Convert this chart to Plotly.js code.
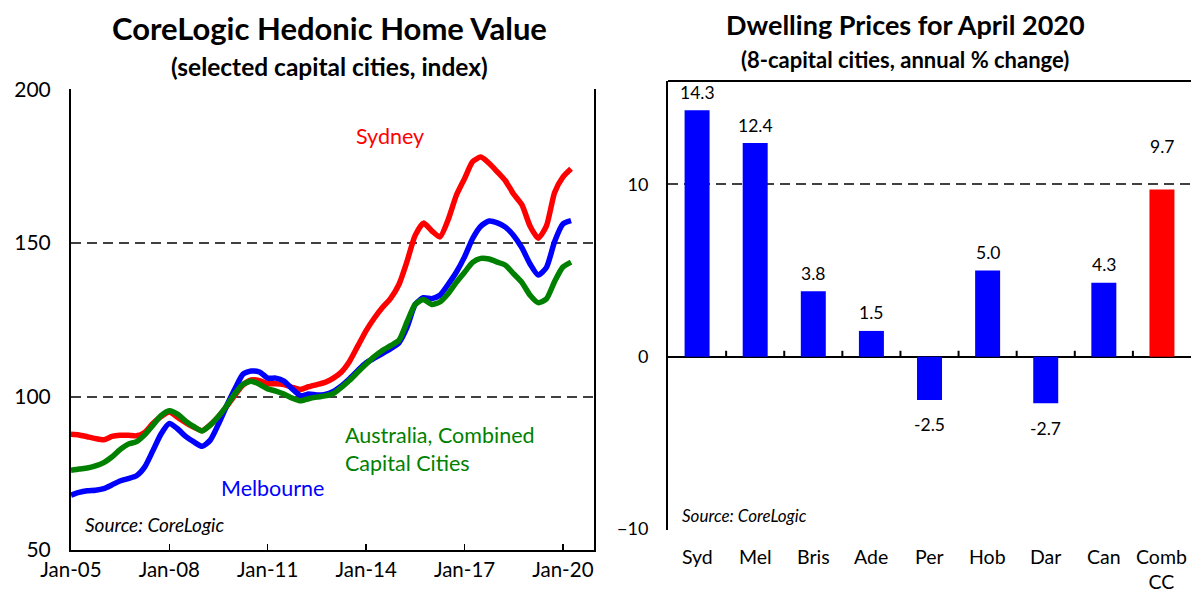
<!DOCTYPE html>
<html>
<head>
<meta charset="utf-8">
<script src="https://cdn.plot.ly/plotly-3.0.1.min.js"></script>
<style>
  html, body { margin: 0; padding: 0; background: #fff; }
  #chart { width: 1191px; height: 592px; }
</style>
</head>
<body>
<div id="chart"></div>
<script>
"use strict";

// left panel: quarterly index readings, Jan-05 .. Apr-20
const startMonth = "2005-01";
const sydney = [
    87.7, 87.5, 86.9, 86.3, 85.9, 87.0, 87.4, 87.4, 87.2, 88.3, 91.2, 93.5, 95.0, 93.3, 91.5, 90.0,
    88.9, 90.8, 93.5, 96.8, 100.5, 103.8, 105.4, 105.2, 104.2, 104.2, 103.9, 103.0, 102.3, 103.2, 103.9, 104.6,
    106.0, 108.0, 111.5, 116.5, 121.5, 125.5, 129.0, 132.0, 136.5, 144.0, 152.5, 156.5, 154.0, 152.0, 157.5, 165.5,
    171.0, 176.5, 178.0, 176.0, 173.2, 170.3, 166.0, 162.5, 155.5, 151.6, 155.5, 166.5, 171.5, 174.2
];
const melbourne = [
    67.9, 68.8, 69.3, 69.5, 70.0, 71.2, 72.5, 73.3, 74.2, 77.0, 82.3, 87.8, 91.2, 89.5, 87.0, 85.2,
    83.8, 85.8, 91.0, 97.0, 102.5, 107.3, 108.3, 108.0, 106.0, 106.0, 105.0, 102.5, 100.3, 100.8, 100.5, 100.7,
    101.7, 103.5, 105.8, 108.5, 111.0, 112.5, 114.0, 115.6, 117.5, 122.5, 130.0, 132.2, 131.9, 133.0, 136.5, 140.5,
    145.5, 151.5, 155.5, 157.2, 156.6, 155.2, 152.5, 148.5, 143.2, 139.6, 142.0, 150.5, 156.2, 157.3
];
const combined = [
    76.0, 76.4, 76.7, 77.4, 78.5, 80.3, 82.7, 84.5, 85.3, 87.5, 90.6, 93.8, 95.4, 94.3, 92.0, 90.2,
    88.8, 90.7, 93.5, 97.0, 101.0, 104.0, 105.0, 104.0, 102.5, 101.8, 100.8, 99.5, 98.6, 99.3, 99.8, 100.2,
    101.0, 103.0, 105.3, 108.0, 110.6, 113.0, 115.0, 116.6, 118.3, 124.3, 130.0, 131.6, 130.0, 130.8, 133.5, 137.2,
    140.5, 143.7, 145.0, 144.8, 143.8, 142.8, 140.0, 137.2, 133.0, 130.6, 131.8, 137.5, 142.2, 143.8
];

// right panel: annual % change, April 2020
const cities = ["Syd", "Mel", "Bris", "Ade", "Per", "Hob", "Dar", "Can", "Comb CC"];
const annualChange = [14.3, 12.4, 3.8, 1.5, -2.5, 5.0, -2.7, 4.3, 9.7];

const RED = "#ff0000";
const BLUE = "#0000ff";
const GREEN = "#008000";
const GRID = "#404040";
const FONT = "Lato, 'Liberation Sans', sans-serif";

// quarterly dates from the start month
function quarterDates(start, n) {
    let [y, m] = start.split("-").map(Number);
    let out = [];
    for (let i = 0; i < n; i++) {
        out.push(y + "-" + String(m).padStart(2, "0") + "-01");
        m += 3;
        if (m > 12) { m -= 12; y += 1; }
    }
    return out;
}
const dates = quarterDates(startMonth, sydney.length);

function lineTrace(y, color) {
    return {
        x: dates, y: y, xaxis: "x", yaxis: "y",
        type: "scatter", mode: "lines",
        line: { color: color, width: 5.5, shape: "spline", smoothing: 0.6 },
        hoverinfo: "skip"
    };
}

const data = [
    lineTrace(sydney, RED),
    lineTrace(melbourne, BLUE),
    lineTrace(combined, GREEN),
    {
        x: cities, y: annualChange, xaxis: "x2", yaxis: "y2",
        type: "bar",
        marker: { color: cities.map(c => c === "Comb CC" ? RED : BLUE) },
        hoverinfo: "skip"
    }
];

const rightRange = [-10.05, 16];
const rightDomain = [0.1047, 0.8632];
const plotHeight = 592;

// bar value labels; a label that would sit on the 10 gridline goes above it
function labelShift(v) {
    if (v < 0) return -25;
    if (v > 8.5 && v < 10) return 43;
    return 18;
}
const barLabels = cities.map((c, i) => ({
    xref: "x2", yref: "y2", x: c, y: annualChange[i],
    text: annualChange[i].toFixed(1), showarrow: false,
    xanchor: "center", yanchor: "middle",
    yshift: labelShift(annualChange[i]),
    font: { family: FONT, size: 17.5, color: "#000" }
}));

// category names under the plot
const catLabels = cities.map(c => ({
    xref: "x2", yref: "y2 domain", x: c, y: 0,
    text: c.replace(" ", "<br>"), showarrow: false,
    xanchor: "center", yanchor: "top", yshift: -13,
    font: { family: FONT, size: 19.5, color: "#000" }
}));

// small ticks on the zero line between categories (6px, pointing up)
const zeroFrac = (0 - rightRange[0]) / (rightRange[1] - rightRange[0]);
const tickFrac = 6 / ((rightDomain[1] - rightDomain[0]) * plotHeight);
const zeroTicks = cities.slice(1).map((c, i) => ({
    type: "line", xref: "x2 domain", yref: "y2 domain", layer: "above",
    x0: (i + 1) / cities.length, x1: (i + 1) / cities.length,
    y0: zeroFrac, y1: zeroFrac + tickFrac,
    line: { color: "#000", width: 2 }
}));

function note(x, y, text, size, color, extra) {
    return Object.assign({
        xref: "paper", yref: "paper", x: x, y: y, text: text,
        xanchor: "center", yanchor: "middle", showarrow: false,
        font: { size: size, color: color || "#000" }
    }, extra || {});
}

const layout = {
    width: 1191, height: plotHeight,
    margin: { l: 0, r: 0, t: 0, b: 0 },
    paper_bgcolor: "#fff", plot_bgcolor: "#fff",
    showlegend: false,
    font: { family: FONT, color: "#000" },
    xaxis: {
        domain: [0.0596, 0.4987], anchor: "y",
        type: "date", range: ["2005-01-01", "2020-12-12"],
        tick0: "2005-01-01", dtick: "M36", tickformat: "%b-%y",
        ticks: "inside", ticklen: 6, tickwidth: 1.5, tickcolor: "#000",
        showline: true, linecolor: "#000", linewidth: 2,
        showgrid: false, zeroline: false,
        tickfont: { size: 20.5 }
    },
    yaxis: {
        domain: [0.0709, 0.8497], anchor: "x",
        range: [50, 200.2], tick0: 50, dtick: 50,
        showline: true, mirror: true, linecolor: "#000", linewidth: 2,
        gridcolor: GRID, gridwidth: 2, griddash: "10px,6px",
        zeroline: false, ticks: "", ticklabelstandoff: 14,
        tickfont: { size: 21 }
    },
    xaxis2: {
        domain: [0.5609, 1.0], anchor: "y2",
        type: "category", range: [-0.5, 8.5],
        ticks: "", showticklabels: false, showline: false, showgrid: false, zeroline: false
    },
    yaxis2: {
        domain: rightDomain, anchor: "x2",
        range: rightRange, tick0: 0, dtick: 10,
        showline: true, linecolor: "#000", linewidth: 2,
        gridcolor: GRID, gridwidth: 2, griddash: "10px,6px",
        zeroline: true, zerolinecolor: "#000", zerolinewidth: 2,
        ticks: "", ticklabelstandoff: 14,
        tickfont: { size: 18 }
    },
    bargap: 0.57,
    shapes: [
        { type: "line", xref: "x2 domain", yref: "y2 domain", x0: 0, x1: 1, y0: 1, y1: 1,
          line: { color: "#000", width: 2 } }
    ].concat(zeroTicks),
    annotations: [
        note(0.277, 0.953, "<b>CoreLogic Hedonic Home Value</b>", 31),
        note(0.277, 0.888, "<b>(selected capital cities, index)</b>", 24.5),
        note(0.760, 0.959, "<b>Dwelling Prices for April 2020</b>", 27),
        note(0.760, 0.899, "<b>(8-capital cities, annual % change)</b>", 22),
        note(0.3275, 0.770, "Sydney", 21.5, RED),
        note(0.2284, 0.1757, "Melbourne", 21.5, BLUE),
        note(0.288, 0.2416, "Australia, Combined<br>Capital Cities", 21.5, GREEN,
             { xanchor: "left", align: "left" }),
        note(0.0697, 0.1132, "<i>Source: CoreLogic</i>", 19, null, { xanchor: "left" }),
        note(0.571, 0.130, "<i>Source: CoreLogic</i>", 17, null, { xanchor: "left" })
    ].concat(barLabels, catLabels)
};

Plotly.newPlot("chart", data, layout, { staticPlot: true });
</script>
</body>
</html>
